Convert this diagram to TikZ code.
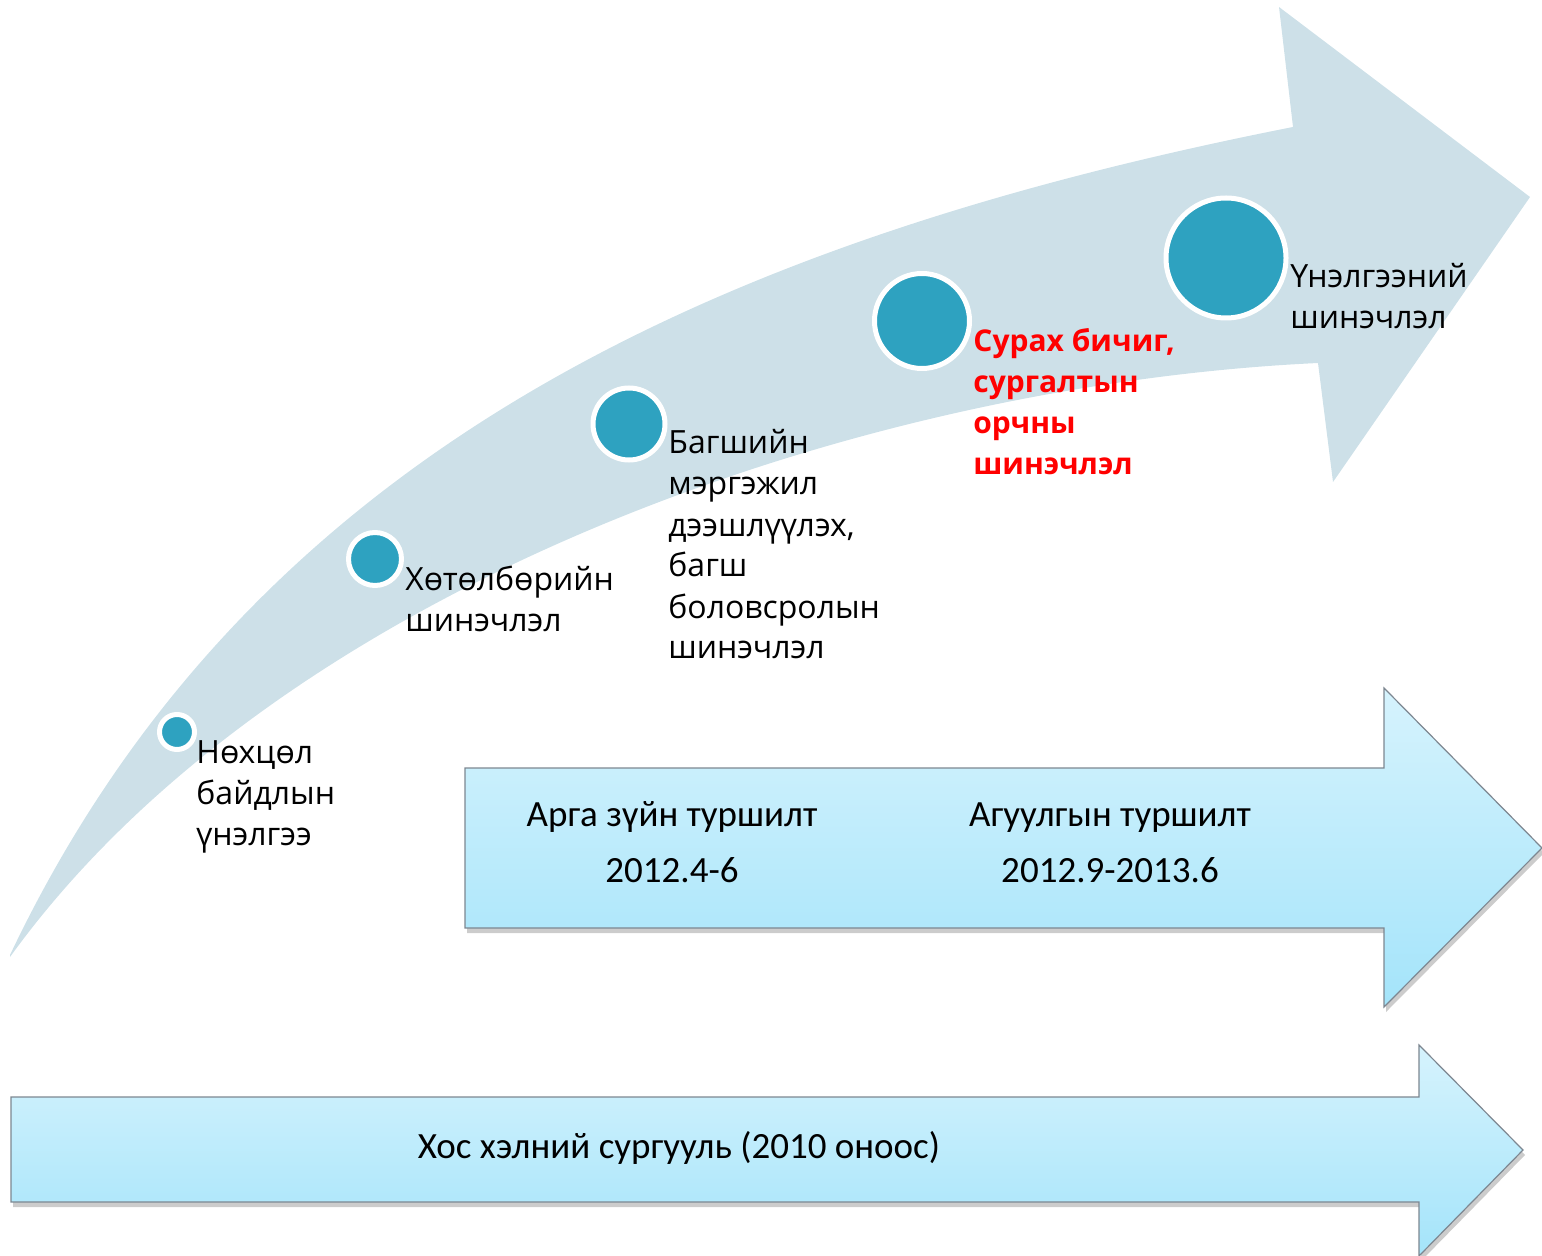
\documentclass[tikz,border=0pt]{standalone}
\usepackage{fontspec}
\setmainfont{Open Sans}
\newfontfamily\calfont{Carlito}
\definecolor{curvec}{RGB}{205,224,232}
\definecolor{dotc}{RGB}{46,162,192}
\definecolor{boxtop}{RGB}{214,243,253}
\definecolor{boxbot}{RGB}{164,228,250}
\definecolor{boxline}{RGB}{125,135,145}
\tikzset{
  dot/.style={circle, fill=dotc, draw=white, line width=2.5pt, inner sep=0pt},
  lbl/.style={anchor=base west, align=left, inner sep=0pt,
    font=\fontsize{16}{20.5}\selectfont},
  boxtxt/.style={anchor=base, inner sep=0pt, font=\calfont\fontsize{18.5}{22}\selectfont}
}
\begin{document}
\begin{tikzpicture}[x=0.5pt,y=-0.5pt]
  \useasboundingbox (0,0) rectangle (1542,1256);

  % curved arrow
  \fill[curvec] (10,955) .. controls (250,450) and (720,240) .. (1293,127)
    -- (1279,7) -- (1530,197) -- (1333,482) -- (1318,363)
    .. controls (850,385) and (275,590) .. (10,957) -- cycle;

  % straight arrows
  \foreach \xa/\xb/\ya/\yb/\ha/\hb/\xt/\yt in
      {465/1384/768/928/688/1007/1542/848, 11/1419/1097/1202/1045/1256/1523/1150} {
    \fill[black, opacity=0.2, shift={(2,5)}] (\xa,\ya) -- (\xb,\ya) -- (\xb,\ha)
      -- (\xt,\yt) -- (\xb,\hb) -- (\xb,\yb) -- (\xa,\yb) -- cycle;
    \shadedraw[top color=boxtop, bottom color=boxbot, draw=boxline, line width=0.6pt]
      (\xa,\ya) -- (\xb,\ya) -- (\xb,\ha) -- (\xt,\yt) -- (\xb,\hb) -- (\xb,\yb)
      -- (\xa,\yb) -- cycle;
  }

  \node[boxtxt] (a1) at (672,826) {Арга зүйн туршилт};
  \node[boxtxt] (a2) at (672,882) {2012.4-6};
  \node[boxtxt] (b1) at (1110,826) {Агуулгын туршилт};
  \node[boxtxt] (b2) at (1110,882) {2012.9-2013.6};
  \node[boxtxt] (s1) at (679,1158) {Хос хэлний сургууль (2010 оноос)};

  % steps
  \node[dot, minimum size=17.5pt] (c1) at (177,732) {};
  \node[dot, minimum size=26.5pt] (c2) at (375,559) {};
  \node[dot, minimum size=36pt] (c3) at (629,424) {};
  \node[dot, minimum size=47.5pt] (c4) at (922,321) {};
  \node[dot, minimum size=60pt] (c5) at (1226,258) {};

  % labels (base = last line)
  \node[lbl] (t1) at (196,845) {Нөхцөл\\байдлын\\үнэлгээ};
  \node[lbl] (t2) at (405,632) {Хөтөлбөрийн\\шинэчлэл};
  \node[lbl] (t3) at (668,659) {Багшийн\\мэргэжил\\дээшлүүлэх,\\багш\\боловсролын\\шинэчлэл};
  \node[lbl, text=red, font=\fontsize{15}{20.5}\selectfont\bfseries] (t4) at (973,475)
    {Сурах бичиг,\\сургалтын\\орчны\\шинэчлэл};
  \node[lbl] (t5) at (1290,329) {Үнэлгээний\\шинэчлэл};
\end{tikzpicture}
\end{document}
